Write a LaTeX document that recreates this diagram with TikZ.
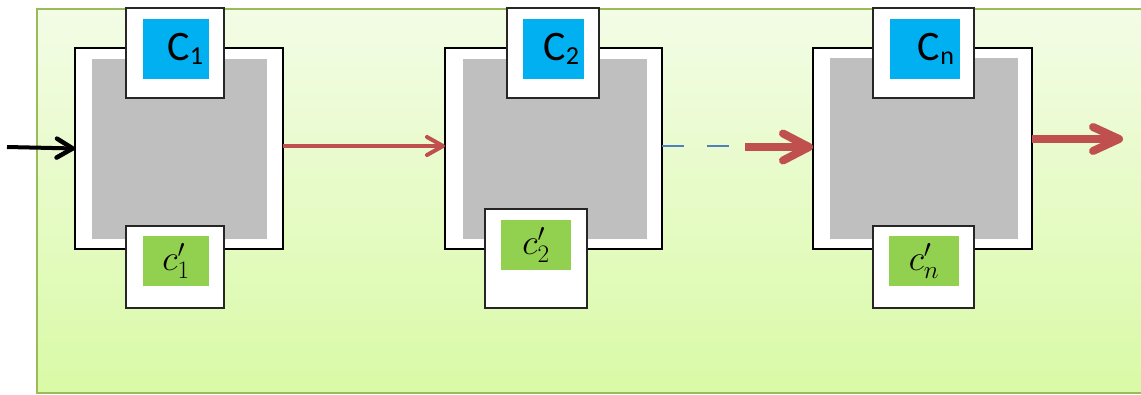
\RequirePackage{fix-cm}
\documentclass[tikz,border=0pt]{standalone}
\usepackage{fontspec}
\setmainfont{Carlito}
\usetikzlibrary{arrows.meta}
\definecolor{bgtop}{HTML}{F3FCE6}
\definecolor{bgbot}{HTML}{D9FAA6}
\definecolor{bgline}{HTML}{9BBB59}
\definecolor{grayfill}{HTML}{BFBFBF}
\definecolor{cblue}{HTML}{00B0F0}
\definecolor{cgreen}{HTML}{92D050}
\definecolor{cred}{HTML}{C0504D}
\definecolor{cdash}{HTML}{4F81BD}
\definecolor{boxline}{HTML}{262626}
\tikzset{
  rbox/.style={rectangle, inner sep=0pt, outer sep=0pt},
  outerbox/.style={rbox, draw=black, line width=2pt, fill=white},
  graybox/.style={rbox, fill=grayfill},
  portbox/.style={rbox, draw=boxline, line width=1.5pt, fill=white},
  bluebox/.style={rbox, fill=cblue, font=\fontsize{42}{46}\selectfont, align=right},
  greenbox/.style={rbox, fill=cgreen, font=\fontsize{36}{40}\selectfont},
  redarrow/.style={draw=cred, line width=4pt},
  thickred/.style={draw=cred, line width=8pt},
}
\newcommand{\Csub}[1]{C\raisebox{-4pt}{\fontsize{26}{26}\selectfont #1}}
\begin{document}
\begin{tikzpicture}[x=1pt,y=-1pt]
\useasboundingbox (0,0) rectangle (1141,394);
\node[rbox, draw=bgline, line width=2pt, top color=bgtop, bottom color=bgbot,
  minimum width=1113, minimum height=384] (bg) at (593.5,201) {};
% block 1
\node[outerbox, minimum width=208, minimum height=201] (b1) at (179,148.5) {};
\node[graybox, minimum width=175, minimum height=180] (g1) at (179.5,149) {};
\node[portbox, minimum width=98, minimum height=90] (t1) at (175,53) {};
\node[bluebox, minimum width=66, minimum height=60, text width=54] (c1) at (176,49) {\Csub{1}};
\node[portbox, minimum width=98, minimum height=82] (u1) at (175,267) {};
\node[greenbox, minimum width=66, minimum height=50] (d1) at (176,261) {$c'_1$};
% block 2
\node[outerbox, minimum width=217, minimum height=201] (b2) at (553.5,148.5) {};
\node[graybox, minimum width=184, minimum height=180] (g2) at (555,149) {};
\node[portbox, minimum width=92, minimum height=90] (t2) at (553,53) {};
\node[bluebox, minimum width=61, minimum height=60, text width=51] (c2) at (553.5,49) {\Csub{2}};
\node[portbox, minimum width=102, minimum height=99] (u2) at (536,258.5) {};
\node[greenbox, minimum width=70, minimum height=50] (d2) at (536,245) {$c'_2$};
% block 3
\node[outerbox, minimum width=219, minimum height=201] (b3) at (922.5,148.5) {};
\node[graybox, minimum width=188, minimum height=181] (g3) at (924,148.5) {};
\node[portbox, minimum width=101, minimum height=90] (t3) at (923.5,53) {};
\node[bluebox, minimum width=70, minimum height=60, text width=58] (c3) at (925,49) {\Csub{n}};
\node[portbox, minimum width=101, minimum height=82] (u3) at (923.5,267) {};
\node[greenbox, minimum width=70, minimum height=50] (d3) at (924,261) {$c'_n$};
% connectors
\coordinate (in) at (7,147);
\coordinate (dashend) at (732,146);
\coordinate (thickstart) at (745,147);
\coordinate (out) at (1123,139);
\draw[line width=4pt, -{Straight Barb[length=16pt,width=19pt,line width=4.5pt,round]}] (in) -- (b1.west);
\draw[redarrow, -{Straight Barb[length=16pt,width=18pt,line width=4pt,round]}] ([yshift=2.5pt]b1.east) -- ([yshift=2.5pt]b2.west);
\draw[draw=cdash, line width=2pt, dash pattern=on 22pt off 23pt] ([yshift=2.5pt]b2.east) -- (dashend);
\draw[thickred, -{Straight Barb[length=26pt,width=27pt,line width=8pt,round]}] (thickstart) -- ([yshift=1.5pt]b3.west);
\draw[thickred, -{Straight Barb[length=26pt,width=24pt,line width=8pt,round]}] ([yshift=9.5pt]b3.east) -- (out);
\end{tikzpicture}
\end{document}
